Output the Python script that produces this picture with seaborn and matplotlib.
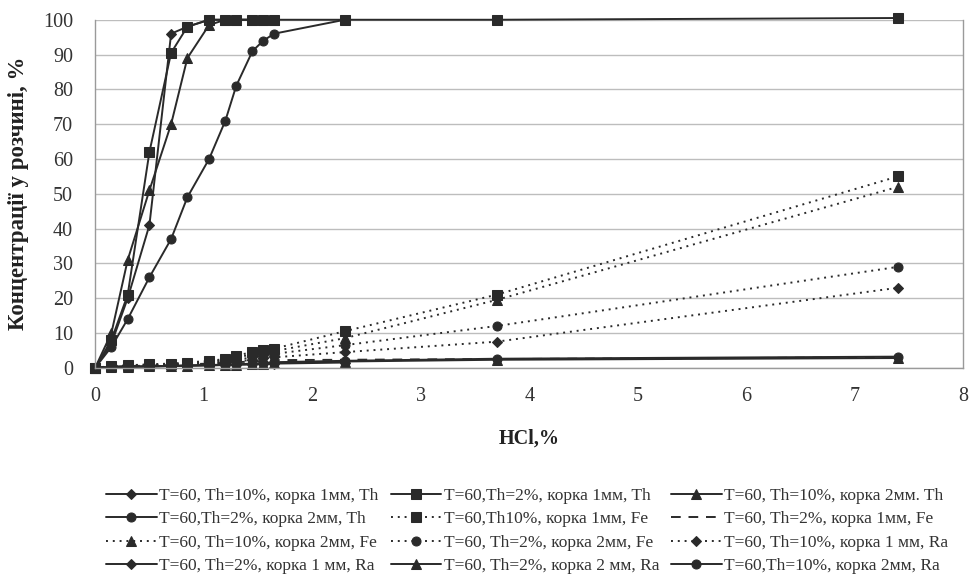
import numpy as np
import pandas as pd
import matplotlib
matplotlib.use("Agg")
import matplotlib.pyplot as plt
import seaborn as sns

# ---- data ----
x_all = [0, 0.15, 0.3, 0.5, 0.7, 0.85, 1.05, 1.2, 1.3, 1.45, 1.55, 1.65, 2.3, 3.7, 7.4]

labels = [
    "T=60, Th=10%, корка 1мм, Th",
    "T=60,Th=2%, корка 1мм, Th",
    "T=60, Th=10%, корка 2мм. Th",
    "T=60,Th=2%, корка 2мм, Th",
    "T=60,Th10%, корка 1мм, Fe",
    "T=60, Th=2%, корка 1мм, Fe",
    "T=60, Th=10%, корка 2мм, Fe",
    "T=60, Th=2%, корка 2мм, Fe",
    "T=60, Th=10%, корка 1 мм, Ra",
    "T=60, Th=2%, корка 1 мм, Ra",
    "T=60, Th=2%, корка 2 мм, Ra",
    "T=60,Th=10%, корка 2мм, Ra",
]

th10_1mm_th = [0, 7, 20, 41, 96, 98, 100, 100, 100, 100, 100, 100]
th2_1mm_th = [0, 8, 21, 62, 90.5, 98, 100, 100, 100, 100, 100, 100, 100, 100, 100.5]
th10_2mm_th = [0, 10, 31, 51, 70, 89, 98.5, 100, 100, 100, 100, 100]
th2_2mm_th = [0, 6, 14, 26, 37, 49, 60, 71, 81, 91, 94, 96, 100]
th10_1mm_fe = [0, 0.5, 0.7, 1, 1.2, 1.5, 2, 2.5, 3.5, 4.5, 5, 5.5, 10.5, 21, 55]
th2_1mm_fe = [0, 0.3, 0.5, 0.6, 0.8, 1, 1.2, 1.4, 1.6, 1.8, 2, 2.2, 2.3, 2.5, 3]
th10_2mm_fe = [0, 0.4, 0.6, 0.8, 1.0, 1.3, 1.7, 2.2, 3, 3.8, 4.3, 4.8, 8.5, 19.5, 52]
th2_2mm_fe = [0, 0.3, 0.5, 0.7, 0.9, 1.1, 1.4, 1.8, 2.3, 3, 3.5, 4, 6.5, 12, 29]
th10_1mm_ra = [0, 0.2, 0.4, 0.5, 0.7, 0.9, 1.1, 1.4, 1.8, 2.3, 2.7, 3, 4.5, 7.5, 23]
th2_1mm_ra = [0, 0.2, 0.3, 0.4, 0.5, 0.6, 0.7, 0.8, 0.9, 1.0, 1.1, 1.2, 1.5]
th2_2mm_ra = [0, 0.2, 0.3, 0.4, 0.5, 0.6, 0.7, 0.8, 0.9, 1.0, 1.2, 1.4, 1.8, 2.3, 2.8]
th10_2mm_ra = [0, 0.2, 0.3, 0.4, 0.5, 0.7, 0.8, 0.9, 1.0, 1.2, 1.4, 1.6, 2.0, 2.6, 3.2]

series = [th10_1mm_th, th2_1mm_th, th10_2mm_th, th2_2mm_th,
          th10_1mm_fe, th2_1mm_fe, th10_2mm_fe, th2_2mm_fe,
          th10_1mm_ra, th2_1mm_ra, th2_2mm_ra, th10_2mm_ra]

dot = (0, (1, 2.5))
styles = [
    dict(marker="D", linestyle="-", markersize=5.5),
    dict(marker="s", linestyle="-", markersize=6.5),
    dict(marker="^", linestyle="-", markersize=7),
    dict(marker="o", linestyle="-", markersize=6.5),
    dict(marker="s", linestyle=dot, markersize=6.5),
    dict(marker="", linestyle=(0, (5, 4))),
    dict(marker="^", linestyle=dot, markersize=7),
    dict(marker="o", linestyle=dot, markersize=6.5),
    dict(marker="D", linestyle=dot, markersize=5.5),
    dict(marker="D", linestyle="-", markersize=5.5),
    dict(marker="^", linestyle="-", markersize=7),
    dict(marker="o", linestyle="-", markersize=6.5),
]

sns.set_theme(style="white")
plt.rcParams["font.family"] = ["Liberation Serif", "DejaVu Serif"]

fig = plt.figure(figsize=(9.71, 5.81), dpi=100)
ax = fig.add_axes([0.098, 0.367, 0.894, 0.599])

color = "#2a2a2a"
for lab, ys, st in zip(labels, series, styles):
    df = pd.DataFrame({"x": x_all[:len(ys)], "y": ys})
    sns.lineplot(data=df, x="x", y="y", ax=ax, color=color, linewidth=1.4,
                 sort=False, estimator=None, label=lab, clip_on=False,
                 markeredgecolor=color, markerfacecolor=color, **st)

lines = ax.get_lines()
if ax.get_legend() is not None:
    ax.get_legend().remove()

ax.set_xlim(0, 8)
ax.set_ylim(0, 100)
ax.set_xticks(range(0, 9))
ax.set_yticks(range(0, 101, 10))
ax.grid(axis="y", color="#bdbdbd", linewidth=1.0)
ax.grid(axis="x", visible=False)
for sp in ["left", "bottom", "right"]:
    ax.spines[sp].set_color("#9a9a9a")
    ax.spines[sp].set_linewidth(1.0)
ax.spines["top"].set_visible(False)
ax.tick_params(axis="y", labelsize=14.5, colors="#333333", length=0, pad=16)
ax.tick_params(axis="x", labelsize=14.5, colors="#333333", length=4,
               direction="out", color="#9a9a9a", pad=10)
ax.set_xlabel("HCl,%", fontsize=14.5, fontweight="bold", color="#222222", labelpad=16)
ax.set_ylabel("Концентрації у розчині, %", fontsize=16.5, fontweight="bold",
              color="#222222", labelpad=10)

# legend laid out row-wise (3 columns)
order = [0, 3, 6, 9, 1, 4, 7, 10, 2, 5, 8, 11]
fig.legend([lines[i] for i in order], [labels[i] for i in order],
           loc="upper center", bbox_to_anchor=(0.543, 0.187), ncol=3,
           frameon=False, fontsize=12.5, handlelength=2.9, columnspacing=0.7,
           labelspacing=0.41, handletextpad=0.15, labelcolor="#333333")

fig.savefig("out.png", dpi=100)
